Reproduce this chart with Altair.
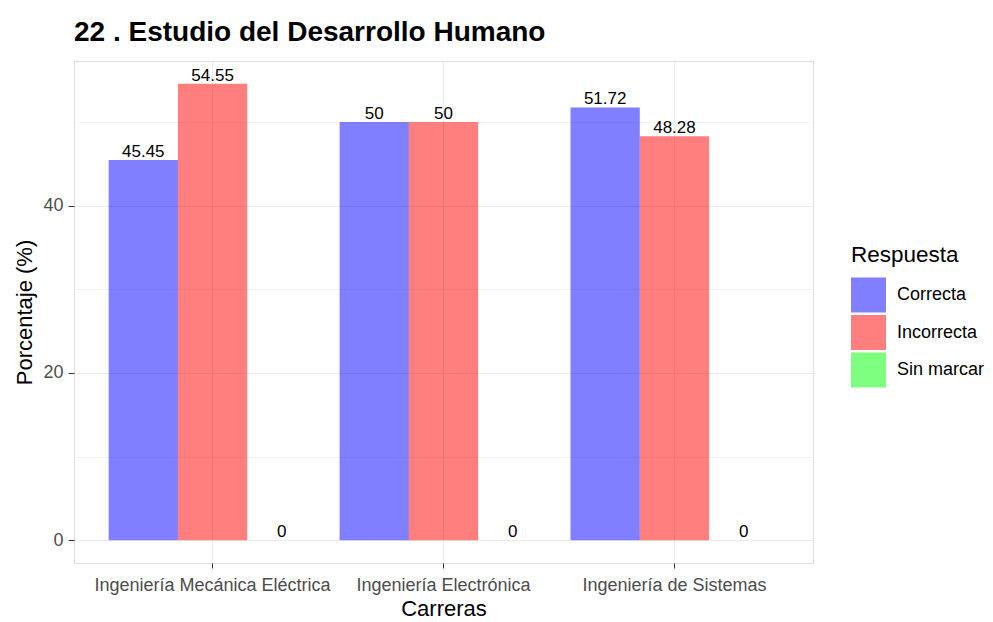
import altair as alt
import pandas as pd

carreras = ["Ingeniería Mecánica Eléctrica", "Ingeniería Electrónica", "Ingeniería de Sistemas"]
respuestas = ["Correcta", "Incorrecta", "Sin marcar"]
correcta = [45.45, 50, 51.72]
incorrecta = [54.55, 50, 48.28]
sin_marcar = [0, 0, 0]
colores = ["#0000FF", "#FF0000", "#00FF00"]

rows = []
for i, c in enumerate(carreras):
    for r, vals in zip(respuestas, [correcta, incorrecta, sin_marcar]):
        v = vals[i]
        rows.append({"Carrera": c, "Respuesta": r, "Porcentaje": v,
                     "Etiqueta": f"{v:g}"})
df = pd.DataFrame(rows)

FONT = "Liberation Sans"
ymin, ymax = -0.05 * 54.55, 54.55 * 1.05

x_enc = alt.X("Carrera:N", sort=carreras, title="Carreras",
              scale=alt.Scale(paddingInner=0.1, paddingOuter=0.15),
              axis=alt.Axis(labelAngle=0, labelFontSize=18, labelColor="#4D4D4D",
                            labelFont=FONT, labelPadding=8, labelLimit=0,
                            titleFontSize=22, titleFont=FONT, titleColor="black",
                            titleFontWeight="normal", titlePadding=4,
                            tickColor="#333333", tickSize=5, domain=False,
                            grid=True, gridColor="#EBEBEB", gridWidth=1.1))
xoff = alt.XOffset("Respuesta:N", sort=respuestas,
                   scale=alt.Scale(paddingInner=0, paddingOuter=0))
y_enc = alt.Y("Porcentaje:Q", title="Porcentaje (%)",
              scale=alt.Scale(domain=[ymin, ymax], nice=False, zero=False),
              axis=alt.Axis(values=[0, 10, 20, 30, 40, 50],
                            labelExpr="datum.value % 20 === 0 ? datum.label : ''",
                            tickOpacity={"condition": {"test": "datum.value % 20 !== 0", "value": 0}, "value": 1},
                            gridWidth={"condition": {"test": "datum.value % 20 !== 0", "value": 0.6}, "value": 1.1},
                            labelFontSize=18, labelColor="#4D4D4D", labelFont=FONT,
                            labelPadding=5,
                            titleFontSize=22, titleFont=FONT, titleColor="black",
                            titleFontWeight="normal", titleX=-50, titleBaseline="middle",
                            tickColor="#333333", tickSize=6, domain=False,
                            grid=True, gridColor="#EBEBEB"))

bars = alt.Chart(df).mark_bar(opacity=0.5).encode(
    x=x_enc, xOffset=xoff, y=y_enc,
    color=alt.Color("Respuesta:N", sort=respuestas,
                    scale=alt.Scale(domain=respuestas, range=colores),
                    legend=alt.Legend(title="Respuesta", orient="none",
                                      legendX=777, legendY=183, padding=0,
                                      titleFontSize=22.5, titleFont=FONT,
                                      titleColor="black", titleFontWeight="normal",
                                      titlePadding=11,
                                      labelFontSize=18, labelFont=FONT, labelColor="black",
                                      labelOffset=11, labelLimit=0, symbolType="square",
                                      symbolSize=1225, symbolOpacity=0.5,
                                      symbolStrokeWidth=0, rowPadding=2.5)),
)

labels = alt.Chart(df).mark_text(baseline="alphabetic", dy=-3, fontSize=17,
                                  font=FONT, color="black").encode(
    x=alt.X("Carrera:N", sort=carreras),
    xOffset=alt.XOffset("Respuesta:N", sort=respuestas),
    y="Porcentaje:Q",
    text="Etiqueta:N",
)

chart = (bars + labels).properties(
    width=739, height=502,
    autosize=alt.AutoSizeParams(type="none"),
    padding={"left": 66, "top": 53, "right": 172, "bottom": 58},
    title=alt.Title("22 . Estudio del Desarrollo Humano", anchor="start",
                    frame="group",
                    fontSize=28, font=FONT, fontWeight="bold", color="black",
                    offset=14),
).configure_view(stroke="#444444", strokeWidth=1, fill="white"
).configure(background="white")

chart.save("out.html", embed_options={"renderer": "svg", "actions": False})
